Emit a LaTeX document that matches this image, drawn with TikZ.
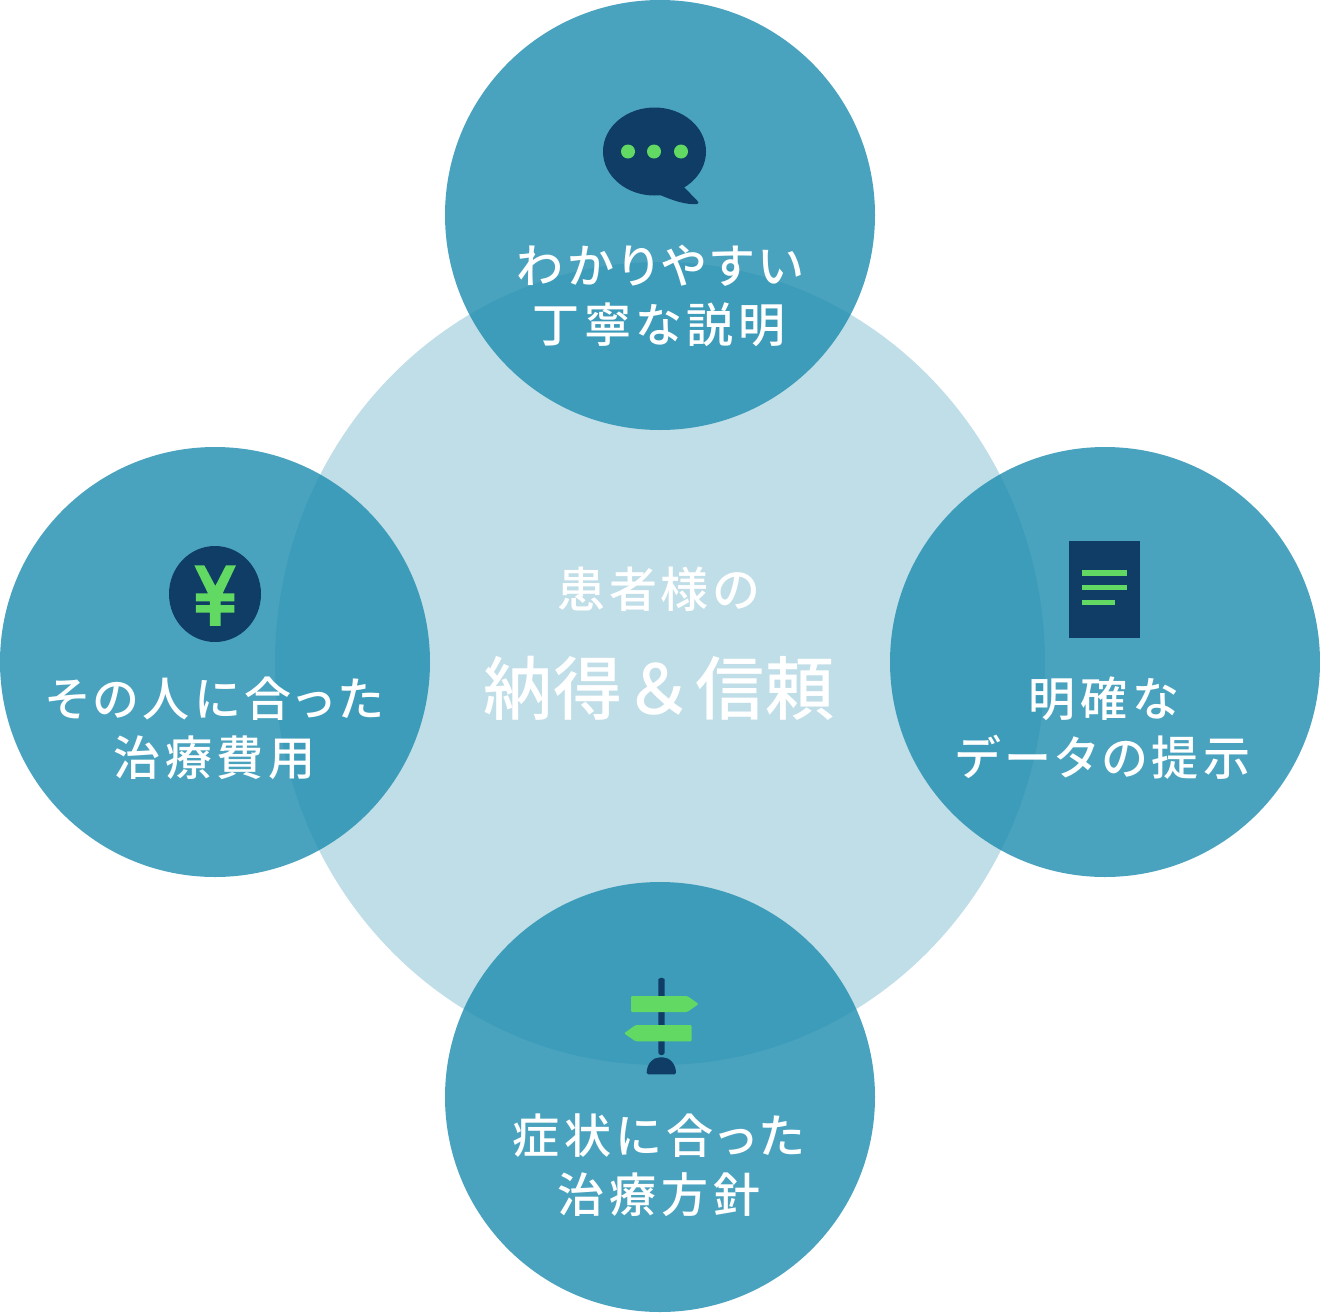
\documentclass[tikz,border=0pt]{standalone}
\usepackage{fontspec}
\usetikzlibrary{shapes.geometric}
\newfontfamily\jplabel[LetterSpace=10,RawFeature={+palt}]{Noto Sans CJK JP Medium}
\newfontfamily\jpsmall[LetterSpace=8]{Noto Sans CJK JP Medium}
\newfontfamily\jplarge[LetterSpace=2.5]{Noto Sans CJK JP Medium}
\definecolor{core}{HTML}{C0DEE8}
\definecolor{petal}{HTML}{1D8CAE}
\definecolor{navy}{HTML}{0F3D66}
\definecolor{leaf}{HTML}{62D962}
\tikzset{
  coredisc/.style={ellipse,inner sep=0pt,minimum width=770pt,minimum height=803pt,fill=core},
  petalcircle/.style={circle,inner sep=0pt,minimum size=430pt,fill=petal,fill opacity=0.8},
  petaltext/.style={text=white,align=center,font=\jplabel\fontsize{47}{59}\selectfont},
  icondark/.style={fill=navy,draw=none},
  iconlight/.style={fill=leaf,draw=none},
}
\begin{document}
\begin{tikzpicture}[x=1pt,y=-1pt]
\useasboundingbox (0,0) rectangle (1320,1312);

% central disc and the four overlapping discs
\node[coredisc] (centre) at (660,663.5) {};
\node[petalcircle] (top) at (660,215) {};
\node[petalcircle] (left) at (215,662) {};
\node[petalcircle] (right) at (1105,662) {};
\node[petalcircle] (bottom) at (660,1097) {};

% central heading
\node[text=white,font=\jpsmall\fontsize{48}{52}\selectfont] (headA) at (659,589) {患者様の};
\node[text=white,font=\jplarge\fontsize{69}{72}\selectfont] (headB) at (659,688) {納得＆信頼};

% labels
\node[petaltext] (topText) at (659,295.5) {わかりやすい\\丁寧な説明};
\node[petaltext] (leftText) at (214.5,728.5) {その人に合った\\治療費用};
\node[petaltext] (rightText) at (1103.5,728.5) {明確な\\データの提示};
\node[petaltext] (bottomText) at (659,1165.5) {症状に合った\\治療方針};

% speech bubble
\fill[icondark] (654.5,151.5) ellipse [x radius=51.5,y radius=44];
\fill[icondark] (660,195) .. controls (672,200) and (685,205) .. (697,204)
  .. controls (699,203.5) and (699,202) .. (697,200.5) -- (684,187) -- cycle;
\foreach \px in {628,654,681} \fill[iconlight] (\px,151.5) circle [radius=7];

% yen coin
\fill[icondark] (215,594) ellipse [x radius=46,y radius=48];
\begin{scope}[shift={(150,530)},x=0.3333pt,y=-0.3333pt]
  \fill[iconlight] (133,106) -- (163,106) -- (196,168) -- (228,106) -- (258,106)
    -- (218,190) -- (253,190) -- (253,214) -- (212,214) -- (212,225) -- (253,225)
    -- (253,248) -- (212,248) -- (212,288) -- (180,288) -- (180,248) -- (138,248)
    -- (138,225) -- (180,225) -- (180,214) -- (138,214) -- (138,190) -- (174,190) -- cycle;
\end{scope}

% document sheet
\fill[icondark] (1069,541) rectangle (1140,638);
\fill[iconlight] (1082,570.3) rectangle (1126.7,575.7);
\fill[iconlight] (1082,585) rectangle (1126.7,590.3);
\fill[iconlight] (1082,599.7) rectangle (1115,605);

% signpost
\begin{scope}[shift={(600,965)},x=0.3333pt,y=-0.3333pt]
  \fill[icondark,rounded corners=2.5pt] (175,270) -- (175,50) arc[start angle=180,end angle=0,x radius=9.5,y radius=-12]
     -- (194,270) -- cycle;
  \fill[icondark,rounded corners=1.5pt] (140,328) .. controls (140,296) and (160,277) .. (184,277)
     .. controls (208,277) and (228,296) .. (228,328) -- cycle;
  \fill[iconlight,rounded corners=1.2pt] (93,93) -- (262,93) -- (296,117) -- (262,141) -- (93,141) -- cycle;
  \fill[iconlight,rounded corners=1.2pt] (275,180) -- (107,180) -- (72,205) -- (107,229) -- (275,229) -- cycle;
\end{scope}
\end{tikzpicture}
\end{document}
